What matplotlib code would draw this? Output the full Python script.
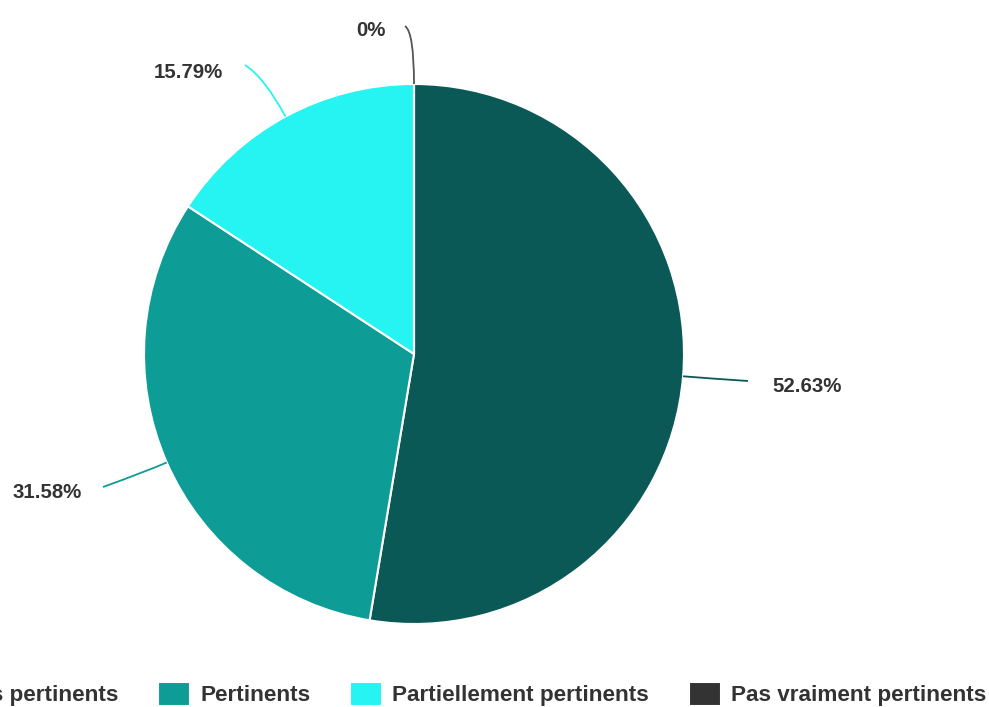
import numpy as np
import matplotlib
matplotlib.use("Agg")
import matplotlib.pyplot as plt
from matplotlib.path import Path
from matplotlib.patches import PathPatch

plt.rcParams['font.family'] = ['Liberation Sans', 'DejaVu Sans']

# Data
categories = ["Très pertinents", "Pertinents", "Partiellement pertinents", "Pas vraiment pertinents"]
values = [52.63, 31.58, 15.79, 0]
colors = ["#0a5957", "#0e9c97", "#25f4f3", "#333333"]

W, H = 989, 707
fig = plt.figure(figsize=(W / 100, H / 100), dpi=100)
ax = fig.add_axes([0, 0, 1, 1])

cx, cy, R = 414, H - 354, 270
wedges, _ = ax.pie(values, colors=colors, startangle=90, counterclock=False,
                   center=(cx, cy), radius=R, frame=True,
                   wedgeprops=dict(edgecolor='white', linewidth=1.5))
ax.set_xlim(0, W)
ax.set_ylim(0, H)
ax.set_aspect('equal')
ax.axis('off')

# Label layout: (text x, text y, ha, connector end x, end y, bend distance) in pixel coords
label_layout = [
    (772, 386, 'left', 748, 381, 25),
    (82, 492, 'right', 103, 487, 22),
    (223, 72, 'right', 245, 65, 45),
    (386, 31, 'right', 405, 26, 52),
]

for w, v, col, (tx, ty, ha, ex, ey, d) in zip(wedges, values, colors, label_layout):
    mid = np.deg2rad((w.theta1 + w.theta2) / 2)
    u = np.array([np.cos(mid), np.sin(mid)])
    p = np.array([cx, cy]) + R * u
    c = p + d * u
    e = np.array([ex, H - ey])
    path = Path([p, c, e], [Path.MOVETO, Path.CURVE3, Path.CURVE3])
    line_col = col if v > 0 else "#555555"
    ax.add_patch(PathPatch(path, facecolor='none', edgecolor=line_col, lw=1.3))
    txt = f"{v:g}%" if v == 0 else f"{v:.2f}%"
    ax.text(tx, H - ty, txt, ha=ha, va='center', fontsize=14.7,
            fontweight='bold', color='#333333')

# Bottom legend, right-aligned; its first entry runs past the left edge
leg = fig.legend(wedges, categories, loc='center right', ncol=4,
                 bbox_to_anchor=(986 / W, 1 - 694 / H), frameon=False,
                 prop=dict(size=16.2, weight='bold'), labelcolor='#333333',
                 handlelength=1.42, handleheight=1.25, handletextpad=0.44,
                 columnspacing=1.78, borderpad=0, borderaxespad=0)

fig.savefig("out.png", dpi=100)
